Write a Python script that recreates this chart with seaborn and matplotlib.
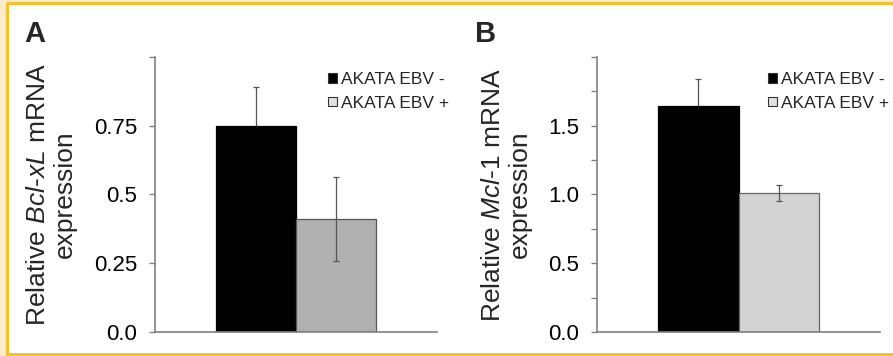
import matplotlib
matplotlib.use('Agg')
import matplotlib.pyplot as plt
from matplotlib.patches import Rectangle, Patch
from matplotlib.lines import Line2D
import pandas as pd
import seaborn as sns

# ── Datos ────────────────────────────────────────────────────────────────
groups      = ["AKATA EBV -", "AKATA EBV +"]
bclxl_mean  = [0.75, 0.41]
bclxl_err   = [0.14, 0.153]
mcl1_mean   = [1.645, 1.01]
mcl1_err    = [0.195, 0.06]

bclxl_ticks  = [0.0, 0.25, 0.5, 0.75, 1.0]
bclxl_labels = ["0.0", "0.25", "0.5", "0.75", ""]
mcl1_ticks   = [0.0, 0.25, 0.5, 0.75, 1.0, 1.25, 1.5, 1.75, 2.0]
mcl1_labels  = ["0.0", "", "0.5", "", "1.0", "", "1.5", "", ""]

sns.set_style("white")
plt.rcParams['font.family'] = ['Liberation Sans', 'DejaVu Sans']
plt.rcParams['mathtext.fontset'] = 'custom'
plt.rcParams['mathtext.rm'] = 'Liberation Sans'
plt.rcParams['mathtext.it'] = 'Liberation Sans:italic'

W, H = 893, 356
fig = plt.figure(figsize=(W / 100, H / 100), dpi=100, facecolor='#FBEBCB')

# fondo blanco + marco amarillo (izquierda, arriba, abajo)
x0, y_top, y_bot = 6.5 / W, 1 - 3 / H, 1 - 354 / H
fig.patches.append(Rectangle((x0, y_bot), 1.0, y_top - y_bot,
                             transform=fig.transFigure, facecolor='white',
                             edgecolor='none', zorder=-2))
for xs, ys in [([x0, x0], [y_bot, y_top]), ([x0, 1.05], [y_top, y_top]),
               ([x0, 1.05], [y_bot, y_bot])]:
    fig.add_artist(Line2D(xs, ys, transform=fig.transFigure,
                          color='#F2C12E', linewidth=2.2, zorder=-1))

def panel(left_px, right_px, means, errs, ticks, labels, colors, edges,
          ylabel, ylim, label_x, letter, letter_px, leg_px, leg_colors):
    ax = fig.add_axes([left_px / W, 1 - 332 / H, (right_px - left_px) / W, 275 / H])
    ax.set_facecolor('none')
    df = pd.DataFrame({"cat": ["x", "x"], "grupo": groups, "valor": means})
    sns.barplot(data=df, x="cat", y="valor", hue="grupo", palette=colors,
                width=0.567, errorbar=None, ax=ax, legend=False,
                saturation=1)
    for bar, col in zip(ax.patches, edges):
        bar.set_edgecolor(col)
        bar.set_linewidth(0.9)
        bar.set_zorder(1)
    # barras de error: la de la barra negra queda detrás (sólo asoma arriba)
    for bar, m, e, z in zip(ax.patches, means, errs, [0.5, 2]):
        xc = bar.get_x() + bar.get_width() / 2
        ax.errorbar([xc], [m], yerr=[e], fmt='none', ecolor='#555555',
                    elinewidth=0.9, capsize=2, capthick=0.9, zorder=z)
    ax.set_xlim(-0.5, 0.5)
    ax.set_ylim(*ylim)
    ax.set_yticks(ticks)
    ax.set_yticklabels(labels, fontsize=16)
    ax.set_xticks([])
    ax.set_xlabel("")
    ax.set_ylabel(ylabel, fontsize=19, linespacing=1.15)
    ax.yaxis.set_label_coords(label_x, 0.5)
    for s in ['top', 'right']:
        ax.spines[s].set_visible(False)
    for s in ['left', 'bottom']:
        ax.spines[s].set_color('#808080')
        ax.spines[s].set_linewidth(1.2)
    ax.tick_params(axis='y', left=True, length=4, width=1.0, color='#808080',
                   pad=9, labelcolor='black')
    fig.text(letter_px / W, 1 - 20 / H, letter, fontsize=21, fontweight='bold',
             ha='left', va='top')
    handles = [Patch(facecolor=c, edgecolor='#333333', linewidth=0.8) for c in leg_colors]
    fig.legend(handles, groups, loc='upper left',
               bbox_to_anchor=(leg_px / W, 1 - 72 / H), frameon=False,
               fontsize=12.5, handlelength=0.5, handleheight=0.5,
               handletextpad=0.25, labelspacing=0.5, borderpad=0,
               borderaxespad=0)
    return ax

panel(155, 437, bclxl_mean, bclxl_err, bclxl_ticks, bclxl_labels,
      ['#000000', '#B0B0B0'], ['#000000', '#555555'],
      "Relative $\\mathit{Bcl}$-$\\mathit{xL}$ mRNA\nexpression", (0, 1.0),
      -0.277, "A", 24, 328, ['#000000', '#E0E0E0'])
panel(597, 880, mcl1_mean, mcl1_err, mcl1_ticks, mcl1_labels,
      ['#000000', '#D3D3D3'], ['#000000', '#666666'],
      "Relative $\\mathit{Mcl}$-$\\mathit{1}$ mRNA\nexpression", (0, 2.0),
      -0.23, "B", 475, 768, ['#000000', '#E0E0E0'])

plt.savefig('out.png', dpi=100, facecolor=fig.get_facecolor())
plt.close()
